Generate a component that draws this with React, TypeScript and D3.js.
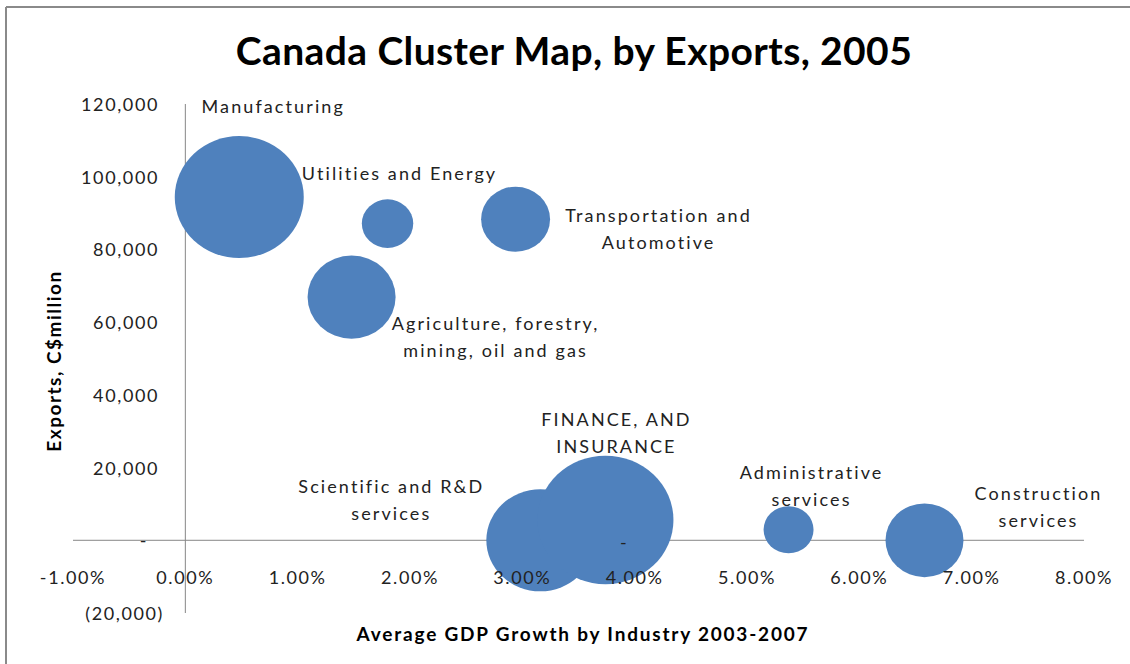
import { useEffect } from "react";
import * as d3 from "d3";

// industries, avg GDP growth 2003-2007 (%), exports (C$ million), bubble size
const industries = [
  ["Manufacturing"],
  ["Utilities and Energy"],
  ["Transportation and", "Automotive"],
  ["Agriculture, forestry,", "mining, oil and gas"],
  ["Scientific and R&D", "services"],
  ["FINANCE, AND", "INSURANCE"],
  ["Administrative", "services"],
  ["Construction", "services"],
];
const gdpGrowth = [0.48, 1.8, 2.94, 1.48, 3.16, 3.74, 5.37, 6.58];
const exportsCad = [94400, 87100, 88300, 66900, 0, 5600, 2900, 0];
const bubbleSize = [90, 14.3, 25.7, 41.9, 63, 100, 13.5, 32.9];

const xTicks = [-1, 0, 1, 2, 3, 4, 5, 6, 7, 8];
const yTicks = [-20000, 0, 20000, 40000, 60000, 80000, 100000, 120000];

// manual label placement (pixel offsets from bubble centre)
const labelOffsets = [
  [34, -91],
  [12, -51],
  [143, -4],
  [144, 26],
  [-149, -54],
  [11, -101],
  [23, -58],
  [114, -47],
];

const W = 1130;
const H = 664;
const fontFamily = "Lato, 'Open Sans', sans-serif";

export default function App() {
  useEffect(() => {
    document.body.style.margin = "0";
  }, []);

  const x = d3.scaleLinear().domain([-1, 8]).range([73, 1084]);
  const y = d3.scaleLinear().domain([-20000, 120000]).range([613, 104]);
  const r = d3.scaleSqrt().domain([0, 100]).range([0, 68]);

  const fmtY = (v) => {
    if (v === 0) return "-";
    const s = d3.format(",")(Math.abs(v));
    return v < 0 ? `(${s})` : s;
  };
  const fmtX = (v) => d3.format(".2%")(v / 100).replace("\u2212", "-");

  const points = industries.map((lines, i) => ({
    lines,
    cx: x(gdpGrowth[i]),
    cy: y(exportsCad[i]),
    r: r(bubbleSize[i]),
    off: labelOffsets[i],
  }));

  return (
    <svg width={W} height={H} style={{ display: "block", background: "#fff" }}>
      {/* chart frame */}
      <line x1={6} x2={W} y1={7} y2={7} stroke="#8a8a8a" strokeWidth={2} />
      <line x1={6} x2={6} y1={7} y2={H} stroke="#8a8a8a" strokeWidth={2} />

      <text
        x={574}
        y={50}
        textAnchor="middle"
        dominantBaseline="central"
        fontFamily={fontFamily}
        fontWeight="bold"
        fontSize={39}
        letterSpacing={0.4}
        fill="#000"
      >
        Canada Cluster Map, by Exports, 2005
      </text>

      {/* axes */}
      <line x1={x(-1)} x2={x(8)} y1={y(0)} y2={y(0)} stroke="#868686" />
      <line x1={x(0)} x2={x(0)} y1={y(120000)} y2={y(-20000)} stroke="#868686" />

      {/* bubbles */}
      {points.map((p, i) => (
        <ellipse key={i} cx={p.cx} cy={p.cy} rx={p.r} ry={p.r * 0.945} fill="#4F81BD" />
      ))}

      {yTicks.map((v) => (
        <text
          key={v}
          x={v === 0 ? 148 : v < 0 ? 164 : 159}
          y={y(v)}
          textAnchor="end"
          dominantBaseline="central"
          fontFamily={fontFamily}
          fontSize={18}
          letterSpacing={1.6}
          fill="#222"
        >
          {fmtY(v)}
        </text>
      ))}
      {xTicks.map((v) => (
        <text
          key={v}
          x={x(v)}
          y={577}
          textAnchor="middle"
          dominantBaseline="central"
          fontFamily={fontFamily}
          fontSize={18}
          letterSpacing={1.6}
          fill="#222"
        >
          {fmtX(v)}
        </text>
      ))}

      {/* stray zero label inside the finance bubble */}
      <text
        x={x(3.9)}
        y={y(0) + 2}
        textAnchor="middle"
        dominantBaseline="central"
        fontFamily={fontFamily}
        fontSize={18}
        fill="#222"
      >
        -
      </text>

      {/* data labels */}
      {points.map((p, i) => (
        <text
          key={i}
          textAnchor="middle"
          fontFamily={fontFamily}
          fontSize={18}
          letterSpacing={2.1}
          fill="#222"
        >
          {p.lines.map((line, j) => (
            <tspan
              key={j}
              x={p.cx + p.off[0]}
              y={p.cy + p.off[1] + j * 27}
              dominantBaseline="central"
            >
              {line}
            </tspan>
          ))}
        </text>
      ))}

      {/* axis titles */}
      <text
        x={583}
        y={633}
        textAnchor="middle"
        dominantBaseline="central"
        fontFamily={fontFamily}
        fontWeight="bold"
        fontSize={19}
        letterSpacing={1.8}
        fill="#000"
      >
        Average GDP Growth by Industry 2003-2007
      </text>
      <text
        transform="translate(53,361) rotate(-90)"
        textAnchor="middle"
        dominantBaseline="central"
        fontFamily={fontFamily}
        fontWeight="bold"
        fontSize={19}
        letterSpacing={1.5}
        fill="#000"
      >
        Exports, C$million
      </text>
    </svg>
  );
}
